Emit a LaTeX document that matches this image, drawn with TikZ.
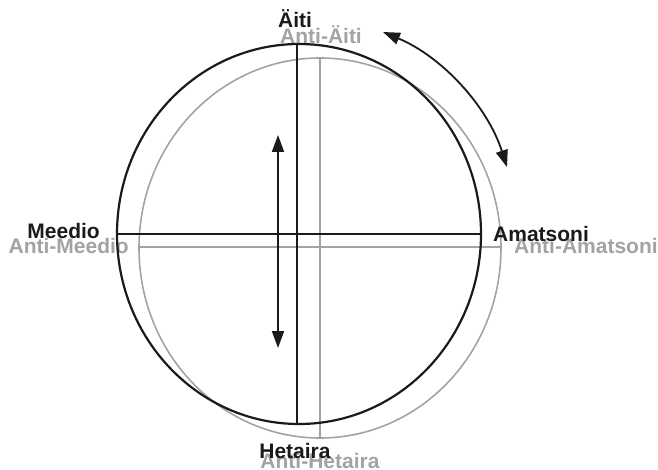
\documentclass[tikz,border=0pt]{standalone}
\usepackage{fontspec}
\setmainfont{Liberation Sans}
\usepackage{xcolor}
\usetikzlibrary{arrows.meta}
\definecolor{antigray}{HTML}{A3A3A3}
\definecolor{inkblack}{HTML}{1A1A1A}

\begin{document}
\begin{tikzpicture}[
  x=1pt,y=-1pt,
  font=\fontsize{21}{25}\selectfont\bfseries,
  main/.style={draw=inkblack,line width=2.2pt},
  anti/.style={draw=antigray,line width=1.6pt},
  mainlbl/.style={text=inkblack,inner sep=0pt},
  antilbl/.style={text=antigray,inner sep=0pt},
  dblarr/.style={{Triangle[length=17pt,width=12pt]}-{Triangle[length=17pt,width=12pt]},line width=1.8pt,draw=inkblack}
]
\useasboundingbox (0,0) rectangle (658,470);
% anti cross
\coordinate (c2) at (320,248);
\coordinate (at) at (320,58);
\coordinate (ab) at (320,438);
\coordinate (al) at (139,247);
\coordinate (ar) at (501,247);
\draw[anti] (c2) ellipse[x radius=181,y radius=190];
\draw[anti] (at)--(ab); \draw[anti] (al)--(ar);
\node[antilbl,anchor=base] (aaiti) at (321,44) {Anti-Äiti};
\node[antilbl,anchor=base east] (ameedio) at (129,254) {Anti-Meedio};
\node[antilbl,anchor=base west] (aamats) at (514,254) {Anti-Amatsoni};
\node[antilbl,anchor=base] (ahet) at (320,468) {Anti-Hetaira};
% main cross
\coordinate (c1) at (299,234);
\coordinate (mt) at (297,44);
\coordinate (mb) at (297,424);
\coordinate (ml) at (117,234);
\coordinate (mr) at (481,234);
\draw[main] (c1) ellipse[x radius=182,y radius=190];
\draw[main] (mt)--(mb); \draw[main] (ml)--(mr);
\node[mainlbl,anchor=base] (aiti) at (295,28) {Äiti};
\node[mainlbl,anchor=base east] (meedio) at (100,239) {Meedio};
\node[mainlbl,anchor=base west] (amats) at (493,242) {Amatsoni};
\node[mainlbl,anchor=base] (het) at (295,458) {Hetaira};
% arrows
\coordinate (up) at (278,135);
\coordinate (down) at (278,348);
\draw[dblarr] (up)--(down);
\coordinate (rotstart) at (383,32);
\draw[dblarr] (rotstart) arc[start angle=-67.3,end angle=-17.8,radius=219];
\end{tikzpicture}
\end{document}
